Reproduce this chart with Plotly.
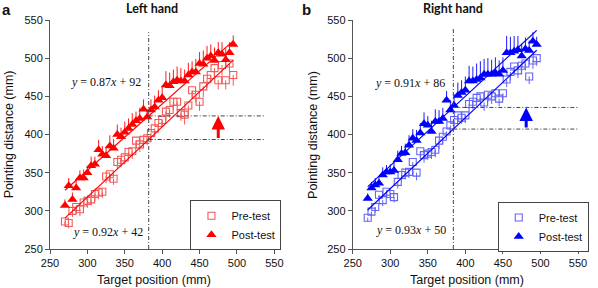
import plotly.graph_objects as go

# ---------------- data ----------------
target_mm = [270, 275, 280, 285, 290, 295, 300, 305, 310, 315, 320, 325, 330, 335, 340, 345,
             350, 355, 360, 365, 370, 375, 380, 385, 390, 395, 400, 405, 410, 415, 420, 425,
             430, 435, 440, 445, 450, 455, 460, 465, 470, 475, 480, 485, 490, 495]

left_pre = [286, 284, 300, 305, 302, 311, 313, 315, 322, 324, 325, 345, 348, 342, 364, 367,
            370, 377, 378, 392, 387, 393, 395, 402, 408, 415, 419, 430, 432, 443, 443, 428,
            426, 438, 458, 452, 443, 463, 473, 478, 487, 471, 491, 471, 493, 478]
left_pre_err = [6, 7, 8, 7, 9, 8, 9, 8, 10, 9, 8, 9, 10, 8, 9, 10, 9, 11, 10, 9, 10, 11, 9,
                12, 10, 11, 9, 12, 10, 11, 12, 10, 13, 12, 11, 10, 12, 14, 12, 11, 13, 12, 14,
                12, 13, 14]
left_post = [307, 333, 315, 330, 343, 343, 350, 359, 361, 380, 374, 372, 385, 382, 400, 397,
             403, 408, 413, 418, 421, 433, 423, 432, 436, 445, 448, 465, 464, 469, 471, 470,
             470, 478, 482, 482, 493, 492, 500, 503, 497, 507, 505, 498, 507, 518]
left_post_err = [8, 10, 9, 12, 10, 11, 9, 12, 10, 13, 11, 12, 14, 12, 13, 12, 14, 13, 15, 12,
                 14, 13, 10, 14, 15, 13, 16, 18, 17, 16, 18, 17, 15, 16, 14, 17, 15, 18, 16,
                 15, 17, 14, 16, 15, 14, 12]

right_pre = [291, 299, 305, 321, 314, 325, 322, 318, 338, 347, 350, 351, 364, 350, 378, 373,
             375, 377, 380, 392, 397, 404, 412, 419, 425, 422, 425, 440, 443, 448, 450, 442,
             452, 450, 454, 447, 454, 472, 482, 489, 484, 490, 493, 476, 497, 500]
right_pre_err = [5, 6, 7, 6, 8, 7, 8, 7, 9, 8, 9, 8, 9, 10, 9, 10, 8, 9, 10, 11, 10, 9, 10,
                 11, 9, 8, 10, 11, 10, 9, 10, 11, 9, 10, 11, 10, 9, 10, 11, 9, 10, 11, 9, 10,
                 11, 10]
right_post = [316, 330, 334, 336, 347, 351, 351, 353, 367, 375, 376, 386, 395, 392, 402, 414,
              412, 404, 417, 417, 421, 445, 432, 438, 451, 455, 458, 470, 470, 472, 474, 479,
              479, 479, 481, 479, 484, 507, 507, 509, 511, 503, 512, 510, 522, 518]
right_post_err = [7, 8, 9, 8, 10, 9, 10, 11, 12, 10, 12, 13, 12, 14, 13, 15, 12, 14, 16, 15,
                  14, 12, 13, 15, 17, 16, 18, 20, 19, 21, 22, 20, 21, 19, 20, 18, 17, 22, 21,
                  20, 18, 16, 15, 13, 12, 10]

# regression lines shown on the chart (slope, intercept)
left_fit_pre = (0.92, 42)
left_fit_post = (0.87, 92)
right_fit_pre = (0.93, 50)
right_fit_post = (0.91, 86)
fit_range = [270, 495]

# reference target position for the dash-dot guide lines
left_ref_x = 382
right_ref_x = 384

tick_vals = [250, 300, 350, 400, 450, 500, 550]

# ---------------- styling ----------------
RED = "#FF0000"
RED_LIGHT = "#F25A5A"
BLUE = "#0000FF"
BLUE_LIGHT = "#6464F5"
SANS = "Liberation Sans, Arial, sans-serif"
SERIF = "Liberation Serif, Times New Roman, serif"

fig = go.Figure()


def zeros(n):
    return [0] * n


def add_panel(xa, ya, pre, pre_err, post, post_err, fit_pre, fit_post, c_line, c_pre, legend):
    n = len(target_mm)
    fig.add_trace(go.Scatter(
        x=target_mm, y=pre, mode="markers", name="Pre-test", legend=legend,
        xaxis=xa, yaxis=ya,
        marker=dict(symbol="square-open", size=7, color=c_pre, line=dict(width=1.1, color=c_pre)),
        error_y=dict(type="data", symmetric=False, array=zeros(n), arrayminus=pre_err,
                     color=c_pre, thickness=1, width=0),
    ))
    fig.add_trace(go.Scatter(
        x=target_mm, y=post, mode="markers", name="Post-test", legend=legend,
        xaxis=xa, yaxis=ya,
        marker=dict(symbol="triangle-up", size=9, color=c_line),
        error_y=dict(type="data", symmetric=False, array=post_err, arrayminus=zeros(n),
                     color=c_line, thickness=0.9, width=0),
    ))
    for (m, b) in (fit_pre, fit_post):
        fig.add_trace(go.Scatter(
            x=fit_range, y=[m * v + b for v in fit_range], mode="lines",
            line=dict(color=c_line, width=1.2), showlegend=False, hoverinfo="skip",
            xaxis=xa, yaxis=ya,
        ))


add_panel("x", "y", left_pre, left_pre_err, left_post, left_post_err,
          left_fit_pre, left_fit_post, RED, RED_LIGHT, "legend")
add_panel("x2", "y2", right_pre, right_pre_err, right_post, right_post_err,
          right_fit_pre, right_fit_post, BLUE, BLUE_LIGHT, "legend2")

axis_common = dict(
    range=[250, 550], tickvals=tick_vals, showgrid=False, zeroline=False,
    showline=True, linecolor="#555555", linewidth=1,
    ticks="outside", ticklen=4, tickcolor="#555555",
    tickfont=dict(family=SANS, size=11, color="#111111"),
)

fig.update_layout(
    width=598, height=288,
    margin=dict(l=50, r=9, t=20, b=39),
    paper_bgcolor="white", plot_bgcolor="white",
    xaxis=dict(domain=[0, 0.4249], anchor="y", **axis_common),
    yaxis=dict(domain=[0, 1], anchor="x", **axis_common),
    xaxis2=dict(domain=[0.5733, 1], anchor="y2", **axis_common),
    yaxis2=dict(domain=[0, 1], anchor="x2", **axis_common),
    legend=dict(x=0.266, y=0.213, xanchor="left", yanchor="top",
                bordercolor="#444444", borderwidth=1, bgcolor="white",
                font=dict(family=SANS, size=11, color="#111111"),
                tracegroupgap=0, itemwidth=30),
    legend2=dict(x=0.848, y=0.205, xanchor="left", yanchor="top",
                 bordercolor="#444444", borderwidth=1, bgcolor="white",
                 font=dict(family=SANS, size=11, color="#111111"),
                 tracegroupgap=0, itemwidth=30),
    showlegend=True,
)

# dash-dot guide lines
DASH = "4px,2px,1px,2px"
for xr, yr, ref_x, fp, fq, top, right_end in (
        ("x", "y", left_ref_x, left_fit_pre, left_fit_post, 534, 537),
        ("x2", "y2", right_ref_x, right_fit_pre, right_fit_post, 540, 550)):
    fig.add_shape(type="line", xref=xr, yref=yr, x0=ref_x, x1=ref_x, y0=250, y1=top,
                  line=dict(color="#444444", width=1, dash=DASH))
    for (m, b) in (fp, fq):
        yv = m * ref_x + b
        fig.add_shape(type="line", xref=xr, yref=yr, x0=ref_x, x1=right_end, y0=yv, y1=yv,
                      line=dict(color="#444444", width=1, dash=DASH))

# arrows
for xr, yr, ax_x, ref_x, fp, fq, col in (
        ("x", "y", 475, left_ref_x, left_fit_pre, left_fit_post, RED),
        ("x2", "y2", 481, right_ref_x, right_fit_pre, right_fit_post, BLUE)):
    y_lo = fp[0] * ref_x + fp[1]
    y_hi = fq[0] * ref_x + fq[1]
    fig.add_annotation(x=ax_x, y=y_hi, ax=ax_x, ay=y_lo, xref=xr, yref=yr, axref=xr, ayref=yr,
                       showarrow=True, arrowhead=2, arrowsize=0.9, arrowwidth=3,
                       arrowcolor=col, text="")


def eq_text(m, b):
    return f"<i>y</i> = {m:.2f}<i>x</i> + {b}"


for xr, yr, fit, ex, ey in (
        ("x", "y", left_fit_post, 325, 469),
        ("x", "y", left_fit_pre, 328, 272),
        ("x2", "y2", right_fit_post, 326, 467),
        ("x2", "y2", right_fit_pre, 327, 275)):
    fig.add_annotation(x=ex, y=ey, xref=xr, yref=yr, text=eq_text(*fit), showarrow=False,
                       font=dict(family=SERIF, size=12, color="#111111"))

# titles, panel letters, axis titles
texts = [
    ("<b>a</b>", -0.083, 1.044, 0, 15, SANS),
    ("<b>b</b>", 0.4855, 1.044, 0, 15, SANS),
    ("<b>Left hand</b>", 0.193, 1.05, 0, 12.5, "Lato, sans-serif"),
    ("<b>Right hand</b>", 0.7625, 1.05, 0, 12.5, "Lato, sans-serif"),
    ("Target position (mm)", 0.197, -0.135, 0, 12.5, SANS),
    ("Target position (mm)", 0.79, -0.135, 0, 12.5, SANS),
    ("Pointing distance (mm)", -0.078, 0.5, -90, 12.5, SANS),
    ("Pointing distance (mm)", 0.497, 0.5, -90, 12.5, SANS),
]
for t, x, y, ang, sz, fam in texts:
    fig.add_annotation(text=t, x=x, y=y, xref="paper", yref="paper", showarrow=False,
                       textangle=ang, xanchor="center", yanchor="middle",
                       font=dict(family=fam, size=sz, color="#111111"))

fig.write_html("out.html", config={"displayModeBar": False},
               post_script="document.body.style.margin='0';")
